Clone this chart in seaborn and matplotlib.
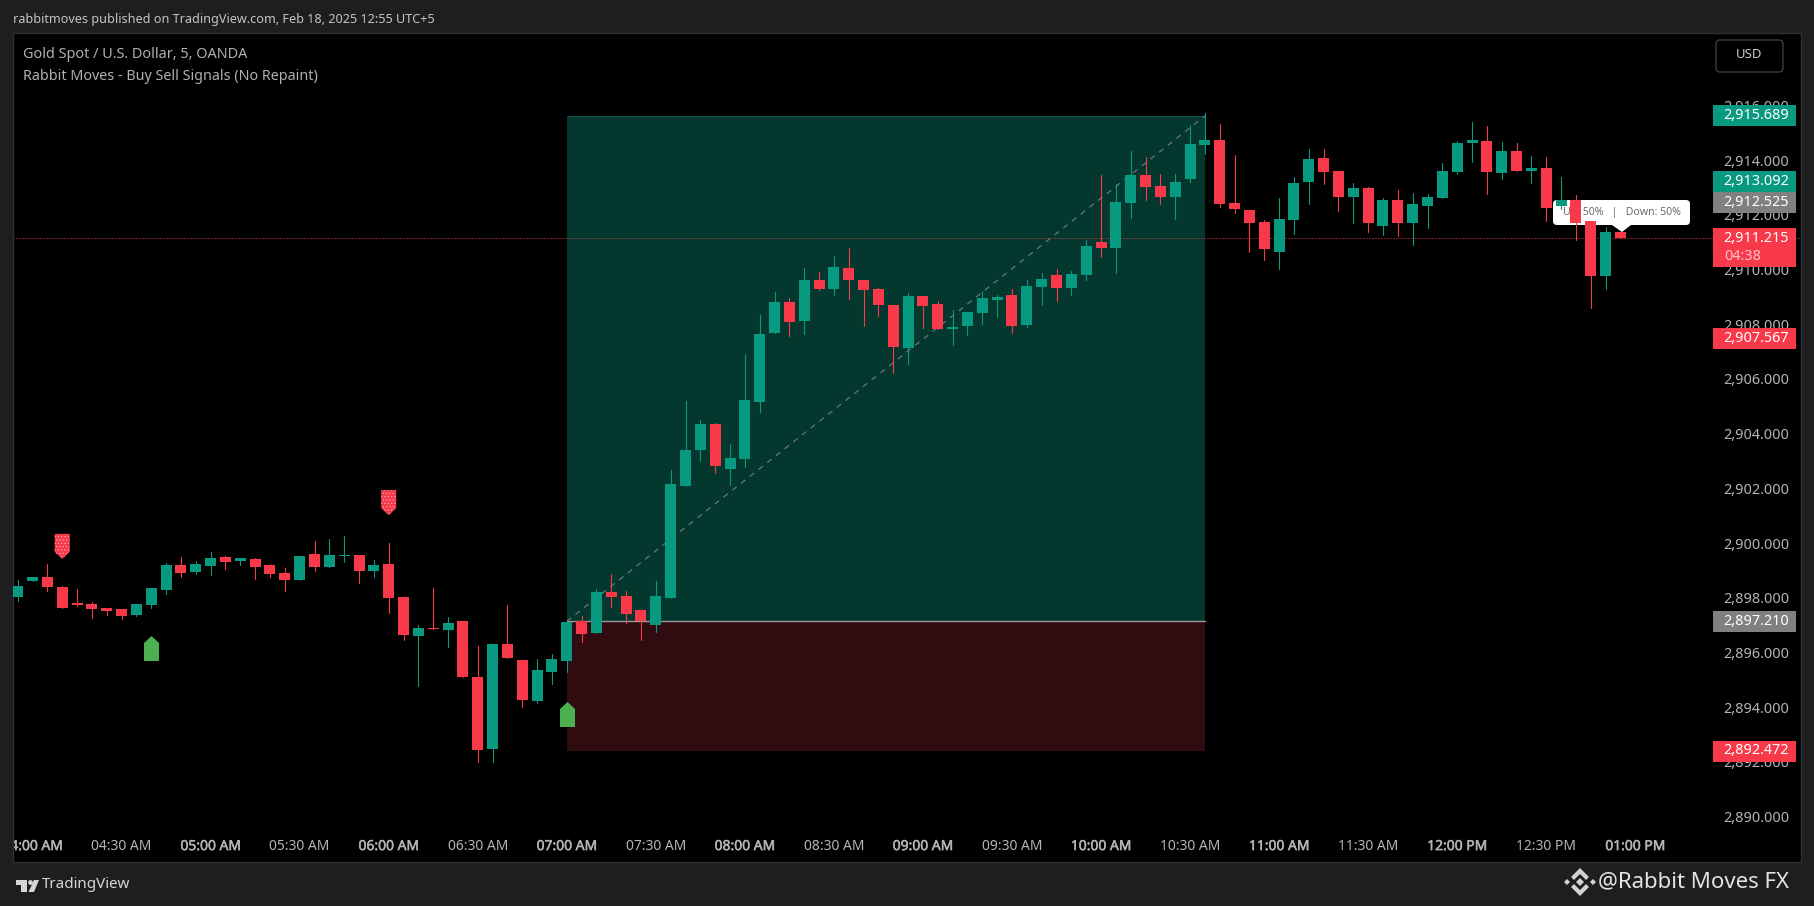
# Gold 5m chart, TradingView dark layout with a long position box
import numpy as np
import pandas as pd
import seaborn as sns
import matplotlib
matplotlib.use('Agg')
import matplotlib.pyplot as plt
import matplotlib.patheffects as pe
from matplotlib.markers import MarkerStyle
from matplotlib.patches import Rectangle, FancyBboxPatch, Polygon, Circle
from matplotlib.path import Path
from matplotlib.transforms import Affine2D

# Candles, one per 5 minutes
opens = [2898.10, 2898.69, 2898.83, 2898.47, 2897.88, 2897.84, 2897.70, 2897.66, 2897.44, 2897.81,
         2898.36, 2899.27, 2899.01, 2899.23, 2899.56, 2899.42, 2899.49, 2899.27, 2898.98, 2898.72,
         2899.67, 2899.20, 2899.60, 2899.64, 2899.05, 2899.31, 2898.10, 2896.67, 2896.98, 2896.89,
         2897.22, 2895.18, 2892.54, 2896.38, 2895.80, 2894.30, 2895.36, 2895.76, 2897.22, 2896.78,
         2898.28, 2898.14, 2897.62, 2897.08, 2898.06, 2902.16, 2903.47, 2904.42, 2902.78, 2903.15,
         2905.23, 2907.75, 2908.89, 2908.19, 2909.69, 2909.36, 2910.13, 2909.69, 2909.36, 2908.78,
         2907.20, 2909.11, 2908.81, 2907.90, 2908.01, 2908.48, 2908.96, 2909.14, 2908.05, 2909.43,
         2909.87, 2909.40, 2909.87, 2911.08, 2910.86, 2912.51, 2913.53, 2913.13, 2912.73, 2913.38,
         2914.63, 2914.81, 2912.51, 2912.25, 2911.81, 2910.71, 2911.88, 2913.27, 2914.15, 2913.68,
         2912.73, 2913.05, 2911.67, 2912.62, 2911.77, 2912.40, 2912.69, 2913.64, 2914.70, 2914.77,
         2913.60, 2914.41, 2913.68, 2913.79, 2912.40, 2912.62, 2911.85, 2909.84, 2911.45]
closes = [2898.50, 2898.83, 2898.47, 2897.70, 2897.81, 2897.66, 2897.59, 2897.41, 2897.84, 2898.43,
          2899.27, 2898.98, 2899.31, 2899.53, 2899.38, 2899.53, 2899.20, 2898.94, 2898.72, 2899.60,
          2899.20, 2899.64, 2899.64, 2899.05, 2899.27, 2898.06, 2896.71, 2896.97, 2896.93, 2897.15,
          2895.18, 2892.51, 2896.38, 2895.87, 2894.33, 2895.43, 2895.83, 2897.19, 2896.75, 2898.28,
          2898.10, 2897.48, 2897.21, 2898.14, 2902.23, 2903.47, 2904.42, 2902.89, 2903.18, 2905.30,
          2907.72, 2908.89, 2908.15, 2909.69, 2909.36, 2910.17, 2909.69, 2909.32, 2908.78, 2907.24,
          2909.11, 2908.74, 2907.90, 2907.97, 2908.52, 2909.03, 2909.07, 2908.01, 2909.47, 2909.73,
          2909.40, 2909.91, 2910.93, 2910.86, 2912.54, 2913.53, 2913.09, 2912.73, 2913.27, 2914.66,
          2914.81, 2912.47, 2912.29, 2911.77, 2910.82, 2911.92, 2913.24, 2914.11, 2913.64, 2912.73,
          2913.05, 2911.77, 2912.62, 2911.77, 2912.47, 2912.73, 2913.68, 2914.70, 2914.81, 2913.64,
          2914.41, 2913.68, 2913.79, 2912.32, 2912.62, 2911.77, 2909.84, 2911.45, 2911.21]
highs = [2898.72, 2898.83, 2899.31, 2898.50, 2898.39, 2897.92, 2897.70, 2897.66, 2897.84, 2898.43,
         2899.34, 2899.56, 2899.42, 2899.75, 2899.60, 2899.53, 2899.53, 2899.31, 2899.16, 2899.60,
         2900.15, 2900.22, 2900.33, 2899.64, 2899.45, 2900.07, 2898.10, 2897.08, 2898.43, 2897.37,
         2897.22, 2896.31, 2896.38, 2897.81, 2895.80, 2895.83, 2896.02, 2897.19, 2897.41, 2898.39,
         2898.94, 2898.32, 2897.62, 2898.68, 2902.74, 2905.27, 2904.57, 2904.46, 2903.69, 2906.98,
         2908.41, 2909.25, 2909.03, 2910.13, 2909.98, 2910.57, 2910.86, 2909.69, 2909.40, 2908.78,
         2909.22, 2909.11, 2908.92, 2908.59, 2908.52, 2909.29, 2909.14, 2909.36, 2909.69, 2909.95,
         2910.09, 2910.02, 2911.15, 2913.53, 2913.20, 2914.41, 2914.19, 2913.57, 2913.57, 2915.36,
         2915.80, 2915.39, 2914.26, 2912.25, 2911.88, 2912.69, 2913.44, 2914.48, 2914.48, 2913.68,
         2913.24, 2913.09, 2912.69, 2912.98, 2912.87, 2912.83, 2913.97, 2914.77, 2915.47, 2915.32,
         2914.74, 2914.70, 2914.22, 2914.19, 2913.44, 2912.80, 2911.85, 2911.63, 2911.45]
lows = [2897.95, 2898.69, 2898.32, 2897.70, 2897.77, 2897.33, 2897.44, 2897.30, 2897.41, 2897.70,
        2898.21, 2898.83, 2898.94, 2898.90, 2899.12, 2899.27, 2898.76, 2898.83, 2898.32, 2898.72,
        2899.05, 2899.20, 2899.38, 2898.61, 2898.83, 2897.52, 2896.53, 2894.85, 2896.93, 2896.27,
        2895.18, 2892.07, 2892.07, 2895.87, 2894.08, 2894.22, 2894.92, 2895.36, 2896.46, 2896.78,
        2897.73, 2897.15, 2896.53, 2896.82, 2898.06, 2902.16, 2903.07, 2902.63, 2902.19, 2902.85,
        2904.86, 2907.75, 2907.64, 2907.72, 2909.32, 2909.14, 2909.00, 2908.01, 2908.37, 2906.29,
        2906.62, 2907.94, 2907.90, 2907.31, 2907.68, 2908.08, 2908.34, 2907.75, 2907.97, 2908.78,
        2908.92, 2909.14, 2909.70, 2910.53, 2909.95, 2911.96, 2912.62, 2912.47, 2911.92, 2913.27,
        2914.30, 2912.36, 2912.14, 2910.71, 2910.42, 2910.09, 2911.37, 2912.47, 2913.20, 2912.21,
        2911.77, 2911.45, 2911.34, 2911.30, 2910.97, 2911.59, 2912.69, 2913.57, 2914.01, 2912.84,
        2913.38, 2913.68, 2913.24, 2911.85, 2912.29, 2911.15, 2908.67, 2909.36, 2911.21]

# Buy / sell signal markers
buy_bars = [9, 37]
buy_prices = [2896.22, 2893.84]
sell_bars = [3, 25]
sell_prices = [2899.95, 2901.55]

# Position box
box_start, box_end = 37, 80
entry_price = 2897.21
target_price = 2915.689
stop_price = 2892.472
last_price = 2911.215

# Axis labels
price_ticks = list(range(2890, 2918, 2))
time_ticks = list(range(1, 110, 6))
time_labels = ['04:00 AM', '04:30 AM', '05:00 AM', '05:30 AM', '06:00 AM', '06:30 AM', '07:00 AM',
               '07:30 AM', '08:00 AM', '08:30 AM', '09:00 AM', '09:30 AM', '10:00 AM', '10:30 AM',
               '11:00 AM', '11:30 AM', '12:00 PM', '12:30 PM', '01:00 PM']

UP = '#089981'
DOWN = '#f7394a'
W, H = 1815, 906

sns.set_theme(style='dark', rc={'figure.facecolor': '#1e1e1e', 'axes.facecolor': '#000000',
                                'axes.edgecolor': '#303030', 'axes.linewidth': 1.0,
                                'hatch.linewidth': 0.6})
plt.rcParams['font.family'] = ['Noto Sans', 'DejaVu Sans']

fig = plt.figure(figsize=(W / 100, H / 100), dpi=100)
ax = fig.add_axes([13 / W, 1 - 862 / H, (1801 - 13) / W, (862 - 33) / H])
ax.grid(False)

# pixel coordinates for the screen furniture, y measured from the top
px = Affine2D().scale(1, -1).translate(0, H)

df = pd.DataFrame({'bar': np.arange(len(opens)), 'open': opens, 'high': highs, 'low': lows, 'close': closes})
df['up'] = df['close'] >= df['open']
df['bottom'] = df[['open', 'close']].min(axis=1)
df['height'] = (df['close'] - df['open']).abs()

# Position box background
ax.fill_between([box_start, box_end], entry_price, target_price, color='#04372e', lw=0, zorder=1)
ax.fill_between([box_start, box_end], stop_price, entry_price, color='#300c10', lw=0, zorder=1)
ax.plot([box_start, box_end], [target_price, target_price], color='#0d5a4c', lw=0.8, zorder=1.2)
ax.plot([box_start, box_end], [entry_price, entry_price], color='#9a9a9a', lw=1.0, zorder=1.2)
sns.lineplot(x=[box_start, box_end], y=[entry_price, target_price], color='#787b86', lw=0.8,
             linestyle=(0, (5, 5)), ax=ax, zorder=1.3, legend=False, errorbar=None)

# Countdown tooltip sits behind the candles
ax.add_patch(FancyBboxPatch((1553, 200), 137, 25, boxstyle='round,pad=0,rounding_size=4', fc='white',
                            ec='none', transform=px, zorder=1.5, clip_on=False))
ax.add_patch(Polygon([(1612, 225), (1631, 225), (1622, 232)], fc='white', ec='none', transform=px, zorder=1.5))
ax.text(1622, 212, 'Up: 50%   |   Down: 50%', transform=px, ha='center', va='center', fontsize=7.6,
        color='#6a6a6a', zorder=1.6)

ax.axhline(last_price, color=DOWN, lw=0.72, linestyle=(0, (1, 2)), zorder=1.8)

# Wicks, one vertical segment per candle
wicks = df.melt(id_vars=['bar', 'up'], value_vars=['low', 'high'], value_name='price').sort_values(['bar', 'variable'])
sns.lineplot(data=wicks, x='bar', y='price', units='bar', estimator=None, hue='up', sort=False,
             palette={True: UP, False: DOWN}, lw=0.8, legend=False, ax=ax, zorder=3)

# Bodies
for flag, colour in [(True, UP), (False, DOWN)]:
    part = df[df['up'] == flag]
    sns.barplot(data=part, x='bar', y='height', bottom=part['bottom'].values, native_scale=True, color=colour,
                saturation=1, width=11 / 14.84, errorbar=None, linewidth=0, legend=False, ax=ax, zorder=3.2)

# Signal markers
buy_shape = Path([(-7.5, 12.5), (7.5, 12.5), (7.5, -5.5), (0, -12.5), (-7.5, -5.5), (-7.5, 12.5)])
sell_shape = Path([(-7.5, -12.5), (7.5, -12.5), (7.5, 5.5), (0, 12.5), (-7.5, 5.5), (-7.5, -12.5)])
sns.scatterplot(x=buy_bars, y=buy_prices, marker=MarkerStyle(sell_shape), s=324, color='#4caf50', linewidth=0,
                legend=False, ax=ax, zorder=4)
sns.scatterplot(x=sell_bars, y=sell_prices, marker=MarkerStyle(buy_shape), s=324, color=DOWN, linewidth=0,
                hatch='.....', edgecolor='#ff9aa3', legend=False, ax=ax, zorder=4)

# Same scale as the screenshot: 14.84 px per bar, 27.35 px per dollar
ax.set_xlim((13 - 17.7) / 14.84, (1801 - 17.7) / 14.84)
ax.set_ylim(2919.928 - 862 * 0.036563, 2919.928 - 33 * 0.036563)
ax.set_xlabel('')
ax.set_ylabel('')

ax.yaxis.tick_right()
ax.set_yticks(price_ticks)
ax.set_yticklabels([f'{p:,}.000' for p in price_ticks], ha='right', va='center', color='#b4b4b4', fontsize=10.4)
ax.tick_params(axis='y', length=0, pad=-8.6)
ax.set_xticks(time_ticks)
ax.set_xticklabels(time_labels, color='#b4b4b4', fontsize=10)
ax.tick_params(axis='x', length=0, pad=-16.5)
for n, lbl in enumerate(ax.get_xticklabels()):
    # hour marks are heavier, the text face here has no bold cut
    if n % 2 == 0:
        lbl.set_path_effects([pe.withStroke(linewidth=0.35, foreground='#b4b4b4')])
    lbl.set_clip_on(True)
    lbl.set_clip_box(ax.bbox)

# Price tags on the right edge
tag_text = ['2,915.689', '2,913.092', '2,912.525', '2,907.567', '2,897.210', '2,892.472']
tag_colour = [UP, UP, '#808080', DOWN, '#808080', DOWN]
tag_centre = [115.3, 181.5, 202.5, 338, 621.3, 751]
for text, colour, yc in zip(tag_text, tag_colour, tag_centre):
    fig.add_artist(Rectangle((1713, yc - 10.5), 83, 21, fc=colour, ec='none', transform=px))
    fig.text(1789, yc, text, transform=px, ha='right', va='center', color='white', fontsize=10.4)
fig.add_artist(Rectangle((1713, 228), 83, 39, fc=DOWN, ec='none', transform=px))
fig.text(1789, 238, '2,911.215', transform=px, ha='right', va='center', color='white', fontsize=10.4)
fig.text(1761, 256, '04:38', transform=px, ha='right', va='center', color='#fbc4c9', fontsize=10.4)

# Header and legend text
fig.text(13, 19, 'rabbitmoves published on TradingView.com, Feb 18, 2025 12:55 UTC+5', transform=px,
         va='center', color='#c4c4c4', fontsize=9.1)
fig.text(23, 54.5, 'Gold Spot / U.S. Dollar, 5, OANDA', transform=px, va='center', color='#b0b0b0', fontsize=10.4)
fig.text(23, 76, 'Rabbit Moves - Buy Sell Signals (No Repaint)', transform=px, va='center', color='#b0b0b0', fontsize=10.3)

# USD button
fig.add_artist(FancyBboxPatch((1716, 40), 67, 32, boxstyle='round,pad=0,rounding_size=4', fc='#000000',
                              ec='#3c3c3c', lw=1, transform=px))
fig.text(1749, 55, 'USD', transform=px, ha='center', va='center', color='#c8c8c8', fontsize=9.5)

# TradingView logo and name
logo = '#d6d6d6'
fig.add_artist(Polygon([(16, 880), (27, 880), (27, 892), (21, 892), (21, 885), (16, 885)], fc=logo, ec='none', transform=px))
fig.add_artist(Circle((30.5, 882.5), 2.4, fc=logo, ec='none', transform=px))
fig.add_artist(Polygon([(34, 880), (39, 880), (34, 892), (28.5, 892)], fc=logo, ec='none', transform=px))
fig.text(42, 885, 'TradingView', transform=px, va='center', color=logo, fontsize=10.9, fontweight='medium')

# Watermark
mark = '#d2d2d2'
for cx, cy, r in [(1567, 882, 3), (1593, 882, 3), (1580, 882, 4)]:
    fig.add_artist(Polygon([(cx - r, cy), (cx, cy - r), (cx + r, cy), (cx, cy + r)], fc=mark, ec='none', transform=px))
fig.add_artist(Polygon([(1571, 877), (1580, 868), (1589, 877), (1586, 880), (1580, 874), (1574, 880)], fc=mark, ec='none', transform=px))
fig.add_artist(Polygon([(1571, 887), (1580, 896), (1589, 887), (1586, 884), (1580, 890), (1574, 884)], fc=mark, ec='none', transform=px))
fig.text(1598, 882, '@Rabbit Moves FX', transform=px, va='center', color='#e4e4e4', fontsize=16)

fig.savefig('out.png', dpi=100, facecolor=fig.get_facecolor())
